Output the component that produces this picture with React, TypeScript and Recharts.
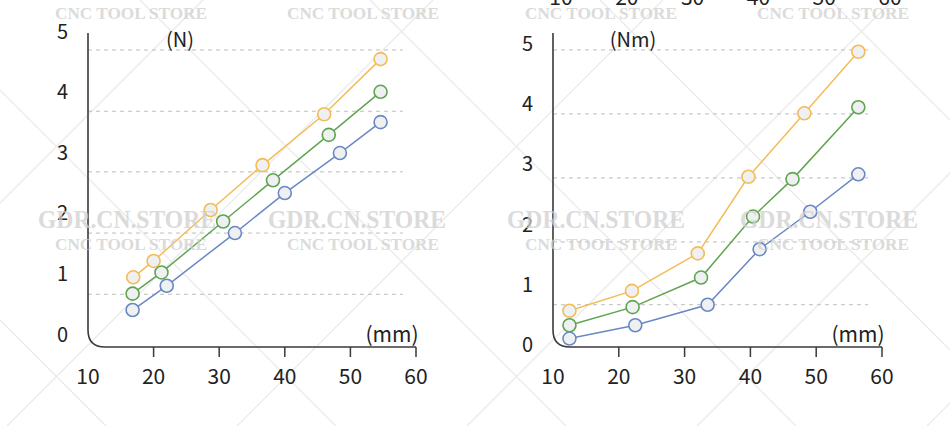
import React from 'react'
import { Line, LineChart, ReferenceLine, XAxis, YAxis } from 'recharts'

type Pair = [number, number]

const xTicks = [10, 20, 30, 40, 50, 60]
const yTicks = [0, 1, 2, 3, 4, 5]

// left panel: force (N) against diameter (mm)
const forceOrange: Pair[] = [[16.9, 0.92], [20.0, 1.19], [28.7, 2.03], [36.6, 2.77], [46.0, 3.61], [54.6, 4.52]]
const forceGreen: Pair[] = [[16.8, 0.65], [21.2, 1.0], [30.6, 1.84], [38.2, 2.52], [46.7, 3.27], [54.6, 3.98]]
const forceBlue: Pair[] = [[16.8, 0.38], [22.0, 0.78], [32.4, 1.65], [40.0, 2.31], [48.4, 2.97], [54.6, 3.48]]
const forceGrid = [0.64, 1.65, 2.66, 3.66, 4.67]

// right panel: torque (Nm) against diameter (mm)
const torqueOrange: Pair[] = [[12.5, 0.55], [22.0, 0.88], [32.0, 1.5], [39.7, 2.77], [48.2, 3.82], [56.4, 4.84]]
const torqueGreen: Pair[] = [[12.5, 0.31], [22.1, 0.61], [32.5, 1.1], [40.4, 2.11], [46.4, 2.73], [56.4, 3.92]]
const torqueBlue: Pair[] = [[12.5, 0.09], [22.5, 0.31], [33.5, 0.65], [41.4, 1.57], [49.1, 2.19], [56.4, 2.81]]
const torqueGrid = [0.65, 1.69, 2.75, 3.81, 4.87]

const ORANGE = '#f2bd57'
const GREEN = '#5fa550'
const BLUE = '#6a88c4'
const DOT_FILL = '#eff0f2'
const AXIS = '#3a3a3a'
const TEXT = '#222'
const FONT = '"Noto Sans CJK SC", "Noto Sans", sans-serif'

const toRows = (pairs: Pair[]) => pairs.map(([x, y]) => ({ x, y }))

const XTick = (props: any) => {
  const { x, y, payload } = props
  return (
    <g>
      {payload.value !== 10 && (
        <line x1={x} y1={y} x2={x} y2={y + 10} stroke={AXIS} strokeWidth={1.5} />
      )}
      <text x={x} y={y + 28} textAnchor="middle" dominantBaseline="central" fontSize={21} fill={TEXT} fontFamily={FONT}>
        {payload.value}
      </text>
    </g>
  )
}

const YTick = (props: any) => {
  const { x, y, payload } = props
  return (
    <text x={x - 20} y={y} textAnchor="end" dominantBaseline="central" fontSize={20} fill={TEXT} fontFamily={FONT}>
      {payload.value}
    </text>
  )
}

// the cut-off tick row of a chart sitting above the right panel
const topLabel = (value: number) => (p: any) => (
  <text x={p.x1 + 8} y={Math.min(p.y1, p.y2) - 28} textAnchor="middle" fontSize={21} fill={TEXT} fontFamily={FONT}>
    {value}
  </text>
)

// axis frame with the rounded corner, plus the unit labels
const frame = (unit: string, unitDx: number) => (p: any) => {
  const { x1, y1, x2, y2 } = p
  const r = 17
  return (
    <g>
      <path
        d={`M${x1},${y1} L${x1},${y2 - r} Q${x1},${y2} ${x1 + r},${y2} L${x2},${y2}`}
        fill="none"
        stroke={AXIS}
        strokeWidth={1.6}
      />
      <text x={x1 + unitDx} y={y1 + 5} textAnchor="middle" dominantBaseline="central" fontSize={20} fill={TEXT} fontFamily={FONT}>
        {unit}
      </text>
      <text x={x2 - 24} y={y2 - 14} textAnchor="middle" dominantBaseline="central" fontSize={21} fill={TEXT} fontFamily={FONT}>
        (mm)
      </text>
    </g>
  )
}

const series = (pairs: Pair[], color: string, key: string) => (
  <Line
    key={key}
    data={toRows(pairs)}
    dataKey="y"
    type="linear"
    stroke={color}
    strokeWidth={1.5}
    dot={{ r: 6.5, fill: DOT_FILL, stroke: color, strokeWidth: 1.6 }}
    activeDot={false}
    isAnimationActive={false}
  />
)

interface PanelProps {
  orange: Pair[]
  green: Pair[]
  blue: Pair[]
  grid: number[]
  yDomain: [number, number]
  frameTop: number
  gridEnd: number
  unit: string
  unitDx: number
  margin: { top: number; right: number; bottom: number; left: number }
  topRow?: boolean
}

function Panel(props: PanelProps) {
  const { orange, green, blue, grid, yDomain, frameTop, gridEnd, unit, unitDx, margin, topRow } = props
  return (
    <LineChart width={475} height={426} margin={margin}>
      <XAxis
        dataKey="x"
        type="number"
        domain={[10, 60]}
        ticks={xTicks}
        axisLine={false}
        tickLine={false}
        tickSize={0}
        tickMargin={0}
        tick={<XTick />}
        height={30}
        allowDataOverflow
      />
      <YAxis
        type="number"
        domain={yDomain}
        ticks={yTicks}
        axisLine={false}
        tickLine={false}
        tickSize={0}
        tickMargin={0}
        tick={<YTick />}
        width={60}
        allowDataOverflow
      />
      {grid.map((g) => (
        <ReferenceLine
          key={g}
          segment={[{ x: 10, y: g }, { x: gridEnd, y: g }]}
          stroke="#bdbdbd"
          strokeDasharray="4 4"
          strokeWidth={1}
          ifOverflow="visible"
        />
      ))}
      {topRow &&
        xTicks.map((t) => (
          <ReferenceLine key={`top${t}`} x={t} ifOverflow="visible" shape={topLabel(t)} />
        ))}
      <ReferenceLine
        segment={[{ x: 10, y: frameTop }, { x: 60, y: yDomain[0] }]}
        ifOverflow="visible"
        shape={frame(unit, unitDx)}
      />
      {series(blue, BLUE, 'blue')}
      {series(green, GREEN, 'green')}
      {series(orange, ORANGE, 'orange')}
    </LineChart>
  )
}

const cncRows = [19, 250]
const cncCols = [55, 287, 525, 757]
const gdrCols = [38, 268, 507, 740]

function Backdrop() {
  const lines: React.ReactNode[] = []
  for (let k = -3; k < 8; k++) {
    const a = 140 + 230 * k
    lines.push(<line key={`d${k}`} x1={a} y1={0} x2={a + 426} y2={426} />)
    const b = 433 + 230 * k
    lines.push(<line key={`u${k}`} x1={b} y1={0} x2={b - 426} y2={426} />)
  }
  return (
    <svg width={950} height={426} style={{ position: 'absolute', left: 0, top: 0 }}>
      <g stroke="#ececec" strokeWidth={1.5}>{lines}</g>
    </svg>
  )
}

function Watermarks() {
  return (
    <svg width={950} height={426} style={{ position: 'absolute', left: 0, top: 0, pointerEvents: 'none' }}>
      <g fontFamily='"Liberation Serif", "DejaVu Serif", serif' fill="#cfcfcf" opacity={0.75} fontWeight="bold">
        {cncRows.map((y) =>
          cncCols.map((x) => (
            <text key={`${x}-${y}`} x={x} y={y} fontSize={16} textLength={152} lengthAdjust="spacingAndGlyphs">
              CNC TOOL STORE
            </text>
          )),
        )}
        {gdrCols.map((x) => (
          <text key={x} x={x} y={228} fontSize={26} textLength={178} lengthAdjust="spacingAndGlyphs">
            GDR.CN.STORE
          </text>
        ))}
      </g>
    </svg>
  )
}

export default function App() {
  return (
    <div style={{ position: 'relative', width: 950, height: 426, background: '#fff', overflow: 'hidden' }}>
      <style>{'body{margin:0}'}</style>
      <Backdrop />
      <div style={{ position: 'absolute', left: 0, top: 0 }}>
        <Panel
          orange={forceOrange}
          green={forceGreen}
          blue={forceBlue}
          grid={forceGrid}
          yDomain={[-0.23, 5]}
          frameTop={4.95}
          gridEnd={58}
          unit="(N)"
          unitDx={92}
          margin={{ top: 30, right: 59, bottom: 49, left: 28 }}
        />
      </div>
      <div style={{ position: 'absolute', left: 475, top: 0 }}>
        <Panel
          orange={torqueOrange}
          green={torqueGreen}
          blue={torqueBlue}
          grid={torqueGrid}
          yDomain={[-0.05, 5.15]}
          frameTop={5.15}
          gridEnd={57.9}
          unit="(Nm)"
          unitDx={80}
          margin={{ top: 33, right: 68, bottom: 49, left: 18 }}
          topRow
        />
      </div>
      <Watermarks />
    </div>
  )
}
